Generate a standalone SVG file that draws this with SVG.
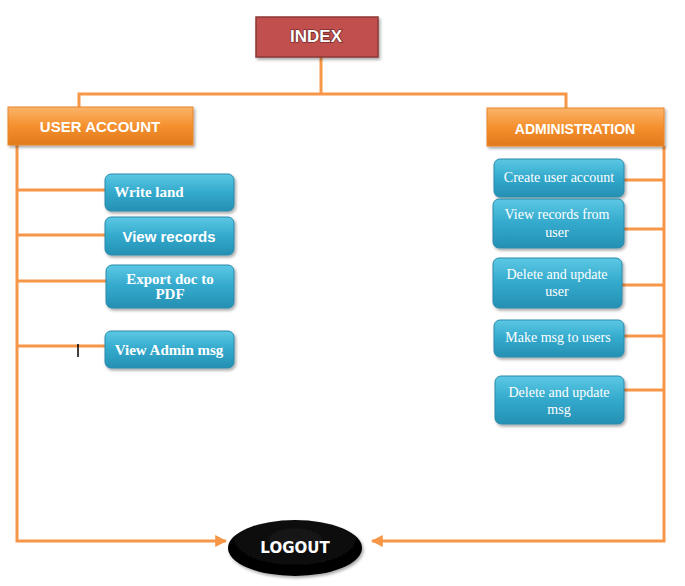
<svg xmlns="http://www.w3.org/2000/svg" width="685" height="586" viewBox="0 0 685 586">
<defs>
<linearGradient id="og" x1="0" y1="0" x2="0" y2="1">
<stop offset="0" stop-color="#fbb46a"/><stop offset="0.5" stop-color="#f5902e"/><stop offset="1" stop-color="#e07a1c"/>
</linearGradient>
<linearGradient id="bg" x1="0" y1="0" x2="0" y2="1">
<stop offset="0" stop-color="#5cc8e4"/><stop offset="0.5" stop-color="#33a9cc"/><stop offset="1" stop-color="#2590b3"/>
</linearGradient>
<radialGradient id="eg" cx="0.5" cy="0.35" r="0.6">
<stop offset="0" stop-color="#1a1a1a"/><stop offset="1" stop-color="#000"/>
</radialGradient>
<filter id="sh" x="-10%" y="-20%" width="125%" height="150%">
<feDropShadow dx="1.5" dy="2" stdDeviation="1.5" flood-color="#000" flood-opacity="0.35"/>
</filter>
<marker id="ar" viewBox="0 0 10 10" refX="9" refY="5" markerWidth="4" markerHeight="4" orient="auto">
<path d="M0,0 L10,5 L0,10 z" fill="#f79646"/>
</marker>
</defs>
<style>
.ln{fill:none;stroke:#f79646;stroke-width:3}
.bx{fill:url(#bg);stroke:#2a8aab;stroke-width:1;filter:url(#sh)}
.ob{fill:url(#og);stroke:#e8862a;stroke-width:1;filter:url(#sh)}
.ts{font-family:"Liberation Serif",serif;fill:#fff;font-size:14px;text-anchor:middle}
.tb{font-family:"Liberation Serif",serif;fill:#fff;font-size:15px;font-weight:bold;text-anchor:middle}
.ta{font-family:"Liberation Sans",Arial,sans-serif;fill:#fff;font-weight:bold;text-anchor:middle}
.ti{font-family:"Liberation Sans",Arial,sans-serif;font-size:17px;font-weight:bold;fill:#fff;stroke:#5a1a18;stroke-width:1.2;paint-order:stroke;text-anchor:middle}
.tl{font-family:"DejaVu Sans",sans-serif;font-size:15px;font-weight:bold;fill:#fff;text-anchor:middle}
</style>
<g id="connectors">
<polyline class="ln" points="321,57 321,94"/>
<polyline class="ln" points="79,108 79,94 566,94 566,108"/>
<polyline class="ln" points="17,145 17,541 226,541" marker-end="url(#ar)"/>
<line class="ln" x1="17" y1="190" x2="105" y2="190"/>
<line class="ln" x1="17" y1="235" x2="105" y2="235"/>
<line class="ln" x1="17" y1="281" x2="106" y2="281"/>
<line class="ln" x1="17" y1="346" x2="105" y2="346"/>
<polyline class="ln" points="664,146 664,541 372,541" marker-end="url(#ar)"/>
<line class="ln" x1="624" y1="180" x2="664" y2="180"/>
<line class="ln" x1="624" y1="229" x2="664" y2="229"/>
<line class="ln" x1="622" y1="285" x2="664" y2="285"/>
<line class="ln" x1="624" y1="336" x2="664" y2="336"/>
<line class="ln" x1="624" y1="390" x2="664" y2="390"/>
</g>
<g id="index">
<rect x="256" y="17" width="122" height="40" fill="#c0504d" stroke="#8c3836" stroke-width="1.5" filter="url(#sh)"/>
<text class="ti" x="316" y="42">INDEX</text>
</g>
<g id="user-account">
<rect class="ob" x="8" y="107" width="185" height="38"/>
<text class="ta" x="100" y="132" font-size="15">USER ACCOUNT</text>
</g>
<g id="administration">
<rect class="ob" x="487" y="108" width="177" height="38"/>
<text class="ta" x="575" y="134" font-size="14">ADMINISTRATION</text>
</g>
<g id="write-land">
<rect class="bx" x="105" y="174" width="129" height="37" rx="6"/>
<text class="tb" x="149" y="197">Write land</text>
</g>
<g id="view-records">
<rect class="bx" x="105" y="217" width="129" height="38" rx="6"/>
<text class="ta" x="169" y="242" font-size="15">View records</text>
</g>
<g id="export-doc">
<rect class="bx" x="106" y="265" width="128" height="43" rx="6"/>
<text class="tb" x="170" y="284" font-size="14">Export doc  to</text>
<text class="tb" x="170" y="299" font-size="14">PDF</text>
</g>
<g id="view-admin-msg">
<rect class="bx" x="105" y="331" width="129" height="37" rx="6"/>
<text class="tb" x="169" y="355" font-size="14">View  Admin msg</text>
</g>
<line x1="78" y1="344" x2="78" y2="357" stroke="#000" stroke-width="1.5"/>
<g id="create-user-account">
<rect class="bx" x="494" y="159" width="130" height="38" rx="6"/>
<text class="ts" x="559" y="182">Create user account</text>
</g>
<g id="view-records-from-user">
<rect class="bx" x="493" y="199" width="131" height="49" rx="6"/>
<text class="ts" x="557" y="219">View records from</text>
<text class="ts" x="557" y="237">user</text>
</g>
<g id="delete-update-user">
<rect class="bx" x="493" y="258" width="129" height="50" rx="6"/>
<text class="ts" x="557" y="279">Delete and update</text>
<text class="ts" x="557" y="296">user</text>
</g>
<g id="make-msg">
<rect class="bx" x="494" y="320" width="130" height="37" rx="6"/>
<text class="ts" x="558" y="342">Make msg to users</text>
</g>
<g id="delete-update-msg">
<rect class="bx" x="495" y="376" width="129" height="48" rx="6"/>
<text class="ts" x="559" y="397">Delete and update</text>
<text class="ts" x="559" y="414">msg</text>
</g>
<g id="logout">
<ellipse cx="295" cy="548" rx="67" ry="28" fill="url(#eg)" filter="url(#sh)"/>
<text class="tl" x="295" y="553">LOGOUT</text>
</g>
</svg>
